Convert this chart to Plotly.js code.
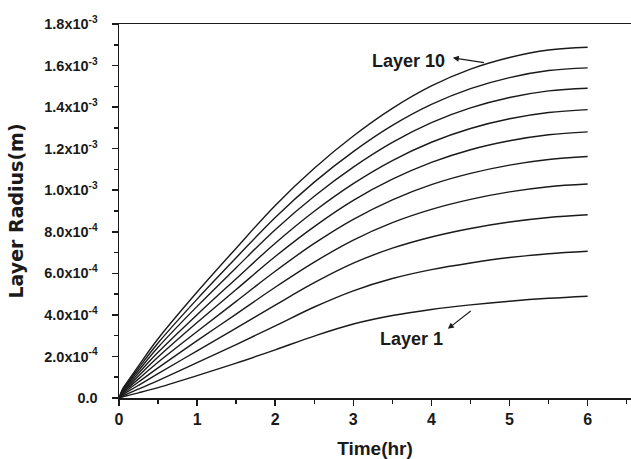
<!DOCTYPE html>
<html><head><meta charset="utf-8">
<script src="https://cdn.plot.ly/plotly-3.0.1.min.js"></script>
<style>html,body{margin:0;padding:0;background:#fff}#c{width:631px;height:459px}</style>
</head><body><div id="c"></div>
<script>
// time (hr)
const time_hr = [0, 0.05, 0.1, 0.25, 0.5, 1, 1.5, 2, 2.5, 3, 3.5, 4, 4.5, 5, 5.5, 6];
// layer radius in units of 1e-3 m
const layer1  = [0, 0.006, 0.011, 0.025, 0.050, 0.108, 0.168, 0.232, 0.298, 0.356, 0.397, 0.426, 0.448, 0.466, 0.480, 0.490];
const layer2  = [0, 0.011, 0.019, 0.043, 0.084, 0.170, 0.257, 0.347, 0.438, 0.516, 0.575, 0.618, 0.650, 0.676, 0.694, 0.706];
const layer3  = [0, 0.017, 0.028, 0.061, 0.117, 0.227, 0.336, 0.447, 0.555, 0.649, 0.721, 0.775, 0.816, 0.847, 0.869, 0.882];
const layer4  = [0, 0.021, 0.036, 0.077, 0.145, 0.276, 0.404, 0.533, 0.654, 0.760, 0.844, 0.908, 0.956, 0.992, 1.017, 1.030];
const layer5  = [0, 0.026, 0.043, 0.092, 0.172, 0.320, 0.465, 0.610, 0.744, 0.860, 0.954, 1.027, 1.081, 1.121, 1.148, 1.162];
const layer6  = [0, 0.030, 0.050, 0.106, 0.197, 0.363, 0.522, 0.681, 0.825, 0.951, 1.053, 1.134, 1.195, 1.238, 1.267, 1.281];
const layer7  = [0, 0.034, 0.056, 0.119, 0.220, 0.401, 0.574, 0.745, 0.899, 1.032, 1.143, 1.231, 1.297, 1.344, 1.374, 1.388];
const layer8  = [0, 0.039, 0.063, 0.132, 0.244, 0.441, 0.627, 0.810, 0.971, 1.111, 1.230, 1.325, 1.396, 1.446, 1.478, 1.491];
const layer9  = [0, 0.042, 0.069, 0.144, 0.265, 0.476, 0.675, 0.869, 1.039, 1.186, 1.312, 1.413, 1.489, 1.542, 1.576, 1.589];
const layer10 = [0, 0.046, 0.074, 0.155, 0.285, 0.510, 0.721, 0.927, 1.106, 1.261, 1.394, 1.502, 1.583, 1.639, 1.675, 1.688];
const layers = [layer1, layer2, layer3, layer4, layer5, layer6, layer7, layer8, layer9, layer10];
const layerNames = ["Layer 1","Layer 2","Layer 3","Layer 4","Layer 5","Layer 6","Layer 7","Layer 8","Layer 9","Layer 10"];

const xTickVals = [0, 1, 2, 3, 4, 5, 6];
const xTickText = ["0", "1", "2", "3", "4", "5", "6"];
const yTickVals = [0, 0.2, 0.4, 0.6, 0.8, 1.0, 1.2, 1.4, 1.6, 1.8];
const yTickText = ["0.0", "2.0x10<sup>-4</sup>", "4.0x10<sup>-4</sup>", "6.0x10<sup>-4</sup>", "8.0x10<sup>-4</sup>",
                   "1.0x10<sup>-3</sup>", "1.2x10<sup>-3</sup>", "1.4x10<sup>-3</sup>", "1.6x10<sup>-3</sup>", "1.8x10<sup>-3</sup>"];

const FONT = "Liberation Sans, Arial, sans-serif";
const WIDE = "DejaVu Sans, Liberation Sans, sans-serif";
const INK = "#1a1a1a";
const traces = layers.map((ys, i) => ({
  x: time_hr, y: ys, name: layerNames[i], type: "scatter", mode: "lines",
  line: {color: INK, width: 1.4, shape: "spline", smoothing: 1},
  hoverinfo: "skip"
}));

const layout = {
  width: 631, height: 459,
  margin: {l: 119, r: 0, t: 24, b: 61},
  paper_bgcolor: "#fff", plot_bgcolor: "#fff",
  showlegend: false,
  font: {family: FONT, color: INK},
  xaxis: {
    range: [0, 6.555], showgrid: false, zeroline: false,
    showline: true, linecolor: INK, linewidth: 1.5, mirror: true,
    ticks: "outside", ticklen: 6, tickwidth: 1.5, tickcolor: INK,
    tickmode: "array", tickvals: xTickVals, ticktext: xTickText,
    tickfont: {family: FONT, size: 16, color: INK, weight: "bold"},
    minor: {tickmode: "linear", tick0: 0, dtick: 0.5, ticks: "outside", ticklen: 4, tickwidth: 1.5, tickcolor: INK, showgrid: false},
    title: {text: "<b>Time(hr)</b>", font: {family: FONT, size: 19, color: INK}, standoff: 17}
  },
  yaxis: {
    range: [0, 1.8], showgrid: false, zeroline: false,
    showline: true, linecolor: INK, linewidth: 1.5, mirror: false,
    ticks: "outside", ticklen: 6, tickwidth: 1.5, tickcolor: INK,
    ticklabelstandoff: 11,
    tickmode: "array", tickvals: yTickVals, ticktext: yTickText,
    tickfont: {family: FONT, size: 14.5, color: INK, weight: "bold"},
    minor: {tickmode: "linear", tick0: 0, dtick: 0.1, ticks: "outside", ticklen: 4, tickwidth: 1.5, tickcolor: INK, showgrid: false},
    title: {text: "<b>Layer Radius(m)</b>", font: {family: WIDE, size: 19, color: INK}, standoff: 15}
  },
  annotations: [
    {x: 3.70, y: 1.622, xref: "x", yref: "y", text: "<b>Layer 10</b>", showarrow: false,
     font: {family: FONT, size: 18, color: INK}},
    {x: 4.274, y: 1.637, ax: 4.693, ay: 1.613, xref: "x", yref: "y", axref: "x", ayref: "y",
     text: "", showarrow: true, arrowhead: 2, arrowsize: 1, arrowwidth: 1.2, arrowcolor: INK},
    {x: 3.745, y: 0.286, xref: "x", yref: "y", text: "<b>Layer 1</b>", showarrow: false,
     font: {family: FONT, size: 18, color: INK}},
    {x: 4.21, y: 0.333, ax: 4.522, ay: 0.424, xref: "x", yref: "y", axref: "x", ayref: "y",
     text: "", showarrow: true, arrowhead: 2, arrowsize: 1, arrowwidth: 1.2, arrowcolor: INK}
  ]
};
Plotly.newPlot("c", traces, layout, {displayModeBar: false, staticPlot: true});
</script></body></html>
